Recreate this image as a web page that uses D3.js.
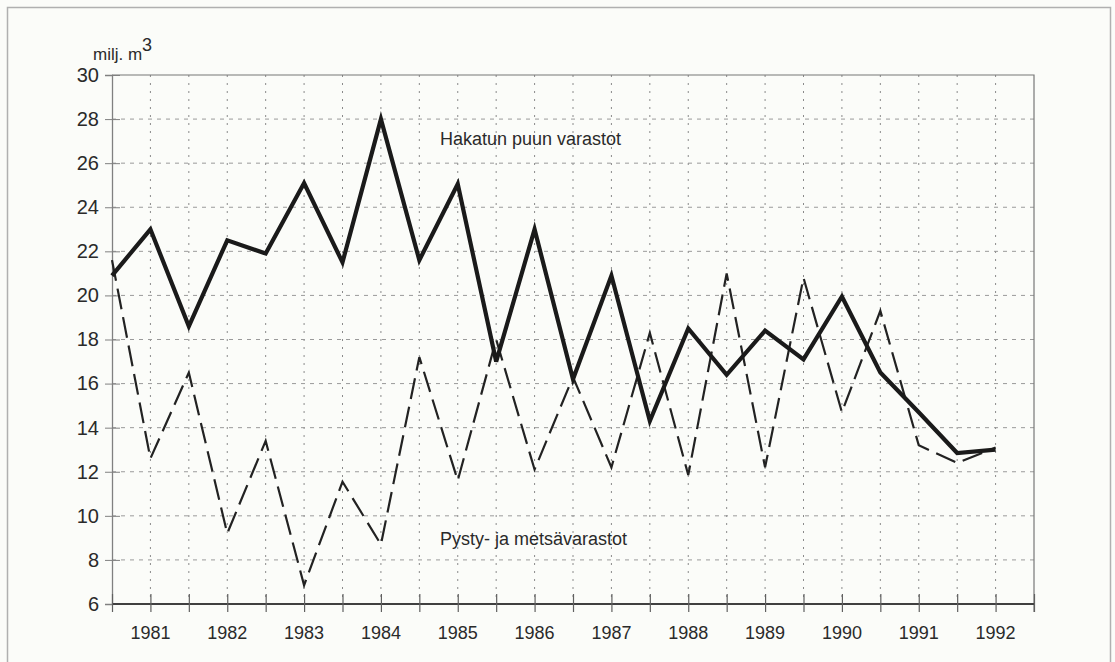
<!DOCTYPE html>
<html>
<head>
<meta charset="utf-8">
<script src="https://cdn.jsdelivr.net/npm/d3@7"></script>
<style>
  body { margin: 0; background: #fbfcf9; }
  svg text { font-family: "Liberation Sans", Arial, sans-serif; fill: #2a2a2a; }
</style>
</head>
<body>
<div id="chart"></div>
<script>
// half-year points, 1980.5 .. 1992
var periods = [1980.5, 1981, 1981.5, 1982, 1982.5, 1983, 1983.5, 1984, 1984.5, 1985, 1985.5, 1986,
	1986.5, 1987, 1987.5, 1988, 1988.5, 1989, 1989.5, 1990, 1990.5, 1991, 1991.5, 1992];

// Hakatun puun varastot (solid)
var hakattu = [20.9, 23.0, 18.6, 22.5, 21.9, 25.1, 21.5, 28.0, 21.6, 25.05, 17.0, 23.0,
	16.2, 20.9, 14.3, 18.5, 16.4, 18.4, 17.1, 19.95, 16.5, 14.7, 12.85, 13.0];

// Pysty- ja metsävarastot (dashed)
var pysty = [21.6, 12.6, 16.5, 9.2, 13.4, 6.85, 11.55, 8.7, 17.2, 11.6, 18.0, 12.1,
	16.3, 12.2, 18.3, 11.85, 21.0, 12.2, 20.8, 14.7, 19.3, 13.2, 12.4, 13.1];

var yearLabels = [1981, 1982, 1983, 1984, 1985, 1986, 1987, 1988, 1989, 1990, 1991, 1992];
var yTicks = [6, 8, 10, 12, 14, 16, 18, 20, 22, 24, 26, 28, 30];

var width = 1115, height = 662;
var padding = {top: 75, right: 81, bottom: 58, left: 112};
var chartArea = {
	width: width - padding.left - padding.right,
	height: height - padding.top - padding.bottom
};

var svg = d3.select("#chart").append("svg")
	.attr("width", width)
	.attr("height", height);

// outer frame
svg.append("rect")
	.attr("x", 7.5).attr("y", 7.5)
	.attr("width", 1103).attr("height", 680)
	.attr("fill", "#fbfcf9")
	.attr("stroke", "#b0b0b0")
	.attr("stroke-width", 1.5);

var xScale = d3.scaleLinear().domain([1980.5, 1992.5]).range([0, chartArea.width]);
var yScale = d3.scaleLinear().domain([6, 30]).range([chartArea.height, 0]);

var g = svg.append("g")
	.attr("transform", "translate(" + padding.left + "," + padding.top + ")");

var halfTicks = d3.range(1981, 1992.5, 0.5);

// grid: dotted verticals, dashed horizontals
g.append("g").selectAll("line")
	.data(halfTicks)
	.enter().append("line")
	.attr("x1", function(d) { return xScale(d); })
	.attr("x2", function(d) { return xScale(d); })
	.attr("y1", 0).attr("y2", chartArea.height)
	.attr("stroke", "#8a8a8a")
	.attr("stroke-width", 1)
	.attr("stroke-dasharray", "2,6");

g.append("g").selectAll("line")
	.data(yTicks.slice(1, -1))
	.enter().append("line")
	.attr("x1", 0).attr("x2", chartArea.width)
	.attr("y1", function(d) { return yScale(d); })
	.attr("y2", function(d) { return yScale(d); })
	.attr("stroke", "#9a9a9a")
	.attr("stroke-width", 1)
	.attr("stroke-dasharray", "4,5");

// top and right border
g.append("path")
	.attr("d", "M0," + yScale(30) + "H" + xScale(1992.5) + "V" + (chartArea.height + 8))
	.attr("fill", "none")
	.attr("stroke", "#777")
	.attr("stroke-width", 1.2);

// y axis
var yAxis = g.append("g")
	.call(d3.axisLeft(yScale).tickValues(yTicks).tickSize(7).tickPadding(6));
yAxis.select(".domain").attr("stroke", "#808080").attr("stroke-width", 1.3);
yAxis.selectAll(".tick line").attr("stroke", "#808080").attr("x2", 8).attr("x1", -7);
yAxis.selectAll(".tick text").style("font-size", "20px").attr("fill", "#2a2a2a");

// x axis with ticks every half year
var xAxis = g.append("g")
	.attr("transform", "translate(0," + chartArea.height + ")")
	.call(d3.axisBottom(xScale).tickValues(d3.range(1980.5, 1993, 0.5)).tickSize(8).tickFormat(""));
xAxis.select(".domain").attr("stroke", "#404040").attr("stroke-width", 2).attr("d", "M0,0H" + chartArea.width);
xAxis.selectAll(".tick line").attr("stroke", "#606060").attr("stroke-width", 1.2).attr("y1", -10);

g.append("g").selectAll("text")
	.data(yearLabels)
	.enter().append("text")
	.attr("x", function(d) { return xScale(d); })
	.attr("y", chartArea.height + 35)
	.attr("text-anchor", "middle")
	.style("font-size", "18px")
	.text(function(d) { return d; });

// series lines
var line = d3.line()
	.x(function(d) { return xScale(d[0]); })
	.y(function(d) { return yScale(d[1]); });

g.append("path")
	.datum(d3.zip(periods, pysty))
	.attr("d", line)
	.attr("fill", "none")
	.attr("stroke", "#222")
	.attr("stroke-width", 2.2)
	.attr("stroke-dasharray", "21,8");

g.append("path")
	.datum(d3.zip(periods, hakattu))
	.attr("d", line)
	.attr("fill", "none")
	.attr("stroke", "#1a1a1a")
	.attr("stroke-width", 4.2)
	.attr("stroke-linejoin", "miter");

// series labels
g.append("text")
	.attr("x", 440 - padding.left)
	.attr("y", 145 - padding.top)
	.style("font-size", "18px")
	.text("Hakatun puun varastot");

g.append("text")
	.attr("x", 440 - padding.left)
	.attr("y", 545 - padding.top)
	.style("font-size", "18px")
	.text("Pysty- ja metsävarastot");

// unit label
var unit = svg.append("text")
	.attr("x", 93)
	.attr("y", 60)
	.style("font-size", "17px");
unit.append("tspan").text("milj. m");
unit.append("tspan").attr("dy", -9).style("font-size", "18px").text("3");
</script>
</body>
</html>
